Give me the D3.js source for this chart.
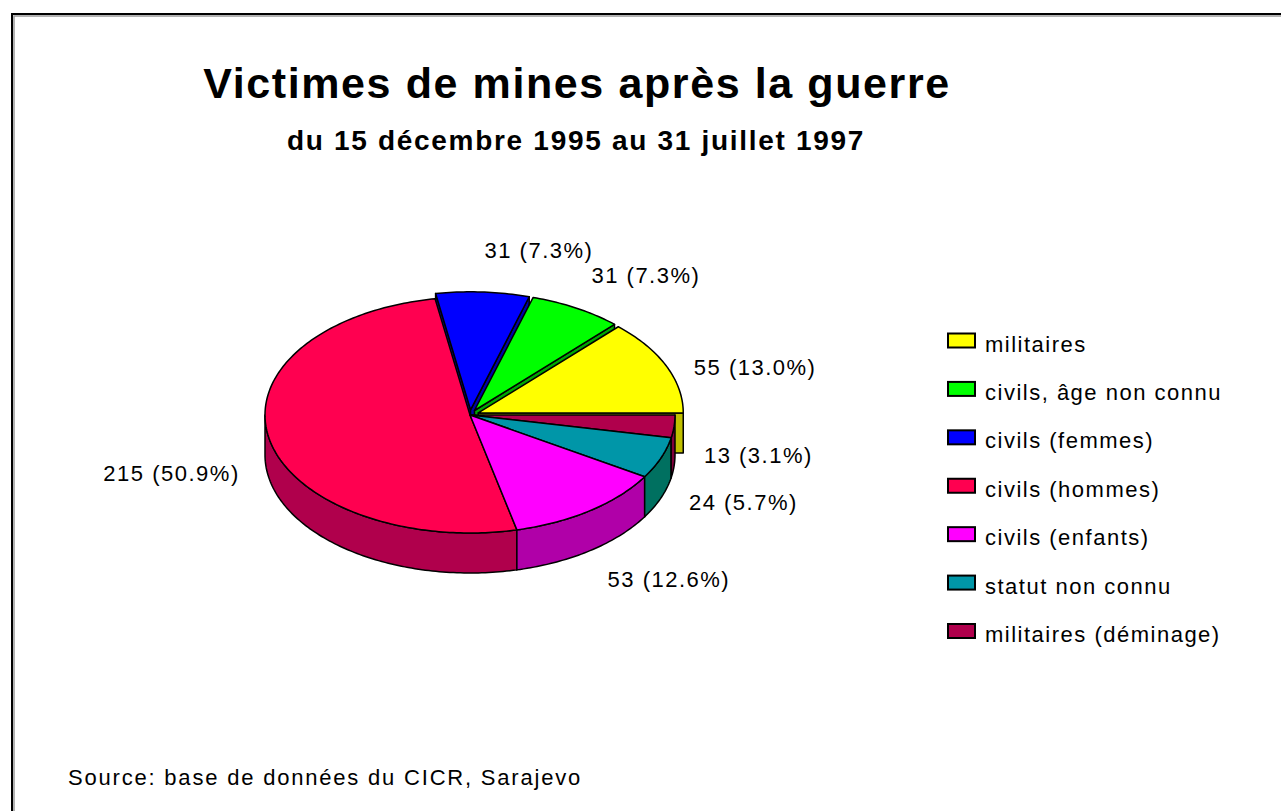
<!DOCTYPE html>
<html><head><meta charset="utf-8">
<script src="https://cdn.jsdelivr.net/npm/d3@7"></script>
<style>body{margin:0;background:#fff}</style>
</head><body>
<svg id="c" width="1281" height="811"></svg>
<script>
const categories = ["militaires","civils, âge non connu","civils (femmes)","civils (hommes)","civils (enfants)","statut non connu","militaires (déminage)"];
const values = [55,31,31,215,53,24,13];
const topColors = ["#FFFF00","#00FF00","#0000FF","#FF0050","#FF00FF","#0096A8","#B0004C"];
const sideColors = ["#C0C000","#00A800","#0000A8","#B0004C","#B000A8","#007060","#80003A"];
const exploded = [true,true,true,false,false,false,false];
const title = "Victimes de mines après la guerre";
const subtitle = "du 15 décembre 1995 au 31 juillet 1997";
const source = "Source: base de données du CICR, Sarajevo";

const W = 1281, H = 811;
const svg = d3.select("#c");
const FONT = "'Liberation Sans', Arial, sans-serif";

// frame
svg.append("path").attr("d", `M12,${H} V14 H${W}`).attr("fill","none").attr("stroke","#000").attr("stroke-width",2);
svg.append("path").attr("d", `M14,${H} V16 H${W}`).attr("fill","none").attr("stroke","#999").attr("stroke-width",1.5);

// titles
svg.append("text").attr("x",577).attr("y",98).attr("text-anchor","middle")
  .attr("font-family",FONT).attr("font-weight","bold").attr("font-size",43).attr("letter-spacing",1.6)
  .text(title);
svg.append("text").attr("x",576).attr("y",150).attr("text-anchor","middle")
  .attr("font-family",FONT).attr("font-weight","bold").attr("font-size",28).attr("letter-spacing",1.7)
  .text(subtitle);

// pie geometry
const cx = 470, cy = 415, rx = 205, ry = 118, depth = 40, explode = 9;
const total = d3.sum(values);
const pct = d3.format(".1%");
const pie = d3.pie().sort(null).value(d => d).startAngle(0).endAngle(2 * Math.PI);
const arcs = pie(values).map((d, i) => {
  const mid = (d.startAngle + d.endAngle) / 2;
  const ox = cx + (exploded[i] ? explode * Math.cos(mid) : 0);
  const oy = cy - (exploded[i] ? explode * ry / rx * Math.sin(mid) : 0);
  return {i, a0: d.startAngle, a1: d.endAngle, mid, ox, oy, value: d.value};
});

const xS = d3.scaleLinear().domain([-1, 1]).range([-rx, rx]);
const yS = d3.scaleLinear().domain([-1, 1]).range([ry, -ry]);
function pt(s, a, dz) { return [s.ox + xS(Math.cos(a)), s.oy + yS(Math.sin(a)) + dz]; }
function arcPts(s, a, b, dz) {
  const n = Math.max(2, Math.ceil(Math.abs(b - a) / (Math.PI / 180)));
  return d3.range(n + 1).map(k => pt(s, a + (b - a) * k / n, dz));
}
const line = d3.line();
const g = svg.append("g").attr("stroke","#000").attr("stroke-width",1.5).attr("stroke-linejoin","round");

// cut faces
const faces = [];
arcs.forEach(s => {
  if (Math.cos(s.a0) > 1e-6) faces.push({s, a: s.a0});
  if (Math.cos(s.a1) < -1e-6) faces.push({s, a: s.a1});
});
faces.sort((p, q) => Math.sin(q.a) - Math.sin(p.a));
faces.forEach(f => {
  const r = pt(f.s, f.a, 0), r2 = pt(f.s, f.a, depth);
  const c = [f.s.ox, f.s.oy], c2 = [f.s.ox, f.s.oy + depth];
  g.append("path").attr("d", line([c, r, r2, c2]) + "Z").attr("fill", sideColors[f.s.i]);
});

// outer walls
arcs.forEach(s => {
  const a = Math.max(s.a0, Math.PI), b = Math.min(s.a1, 2 * Math.PI);
  if (a < b) {
    const pts = arcPts(s, a, b, 0).concat(arcPts(s, b, a, depth));
    g.append("path").attr("d", line(pts) + "Z").attr("fill", sideColors[s.i]);
  }
});

// tops (back first)
arcs.slice().sort((p, q) => Math.sin(q.mid) - Math.sin(p.mid)).forEach(s => {
  const pts = [[s.ox, s.oy]].concat(arcPts(s, s.a0, s.a1, 0));
  g.append("path").attr("d", line(pts) + "Z").attr("fill", topColors[s.i]);
});

// data labels
arcs.forEach(s => {
  const c = Math.cos(s.mid), sn = Math.sin(s.mid);
  const x = s.ox + (rx + 30) * c;
  const y = sn >= 0 ? s.oy - (ry + 72) * sn + 30 : s.oy - (ry + 55) * sn + 24;
  svg.append("text").attr("x", x).attr("y", y).attr("dy","0.35em")
    .attr("text-anchor", c >= 0 ? "start" : "end")
    .attr("font-family",FONT).attr("font-size",22).attr("letter-spacing",1.5)
    .text(`${s.value} (${pct(s.value / total)})`);
});

// legend
const ly = d3.scalePoint().domain(categories).range([340.5, 631]);
const leg = svg.append("g");
categories.forEach((name, i) => {
  const y = ly(name);
  leg.append("rect").attr("x",948).attr("y",y - 7).attr("width",27).attr("height",14)
    .attr("fill",topColors[i]).attr("stroke","#000").attr("stroke-width",2);
  leg.append("text").attr("x",985).attr("y",y + 11)
    .attr("font-family",FONT).attr("font-size",22).attr("letter-spacing",1.5).text(name);
});

// source
svg.append("text").attr("x",68).attr("y",785)
  .attr("font-family",FONT).attr("font-size",22).attr("letter-spacing",1.8).text(source);
</script>
</body></html>
